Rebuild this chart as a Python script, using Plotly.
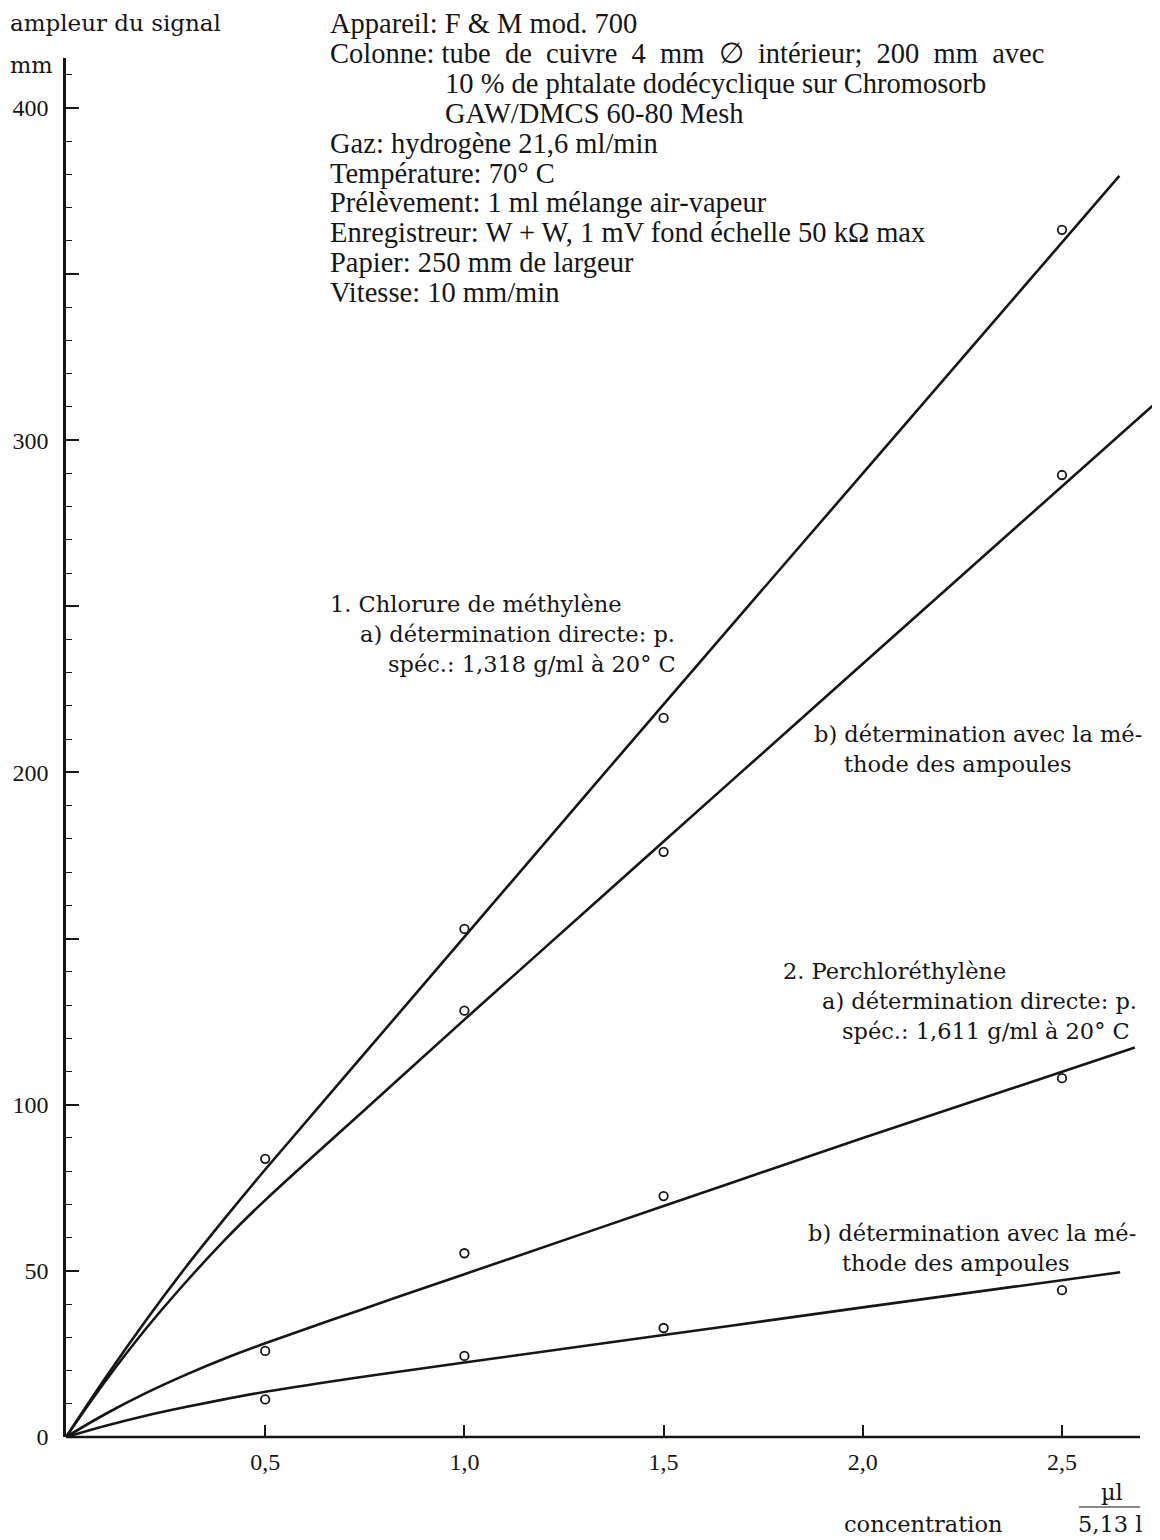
import plotly.graph_objects as go

# ---------------- data ----------------
# measured points: concentration (µl / 5,13 l) vs signal amplitude (mm)
s1a_x = [0.5, 1.0, 1.5, 2.5]
s1a_y = [83.7, 152.9, 216.4, 363.3]
s1b_x = [1.0, 1.5, 2.5]
s1b_y = [128.3, 176.1, 289.5]
s2a_x = [0.5, 1.0, 1.5, 2.5]
s2a_y = [25.9, 55.3, 72.5, 108.0]
s2b_x = [0.5, 1.0, 1.5, 2.5]
s2b_y = [11.3, 24.4, 32.8, 44.2]

# drawn calibration curves (vertices)
c1a_x = [0, 0.1, 0.2, 0.3, 0.4, 0.5, 0.75, 1.0, 1.5, 2.0, 2.644]
c1a_y = [0, 18.0, 35.0, 51.0, 66.0, 80.5, 115.5, 150.5, 220.5, 290.0, 379.5]
c1b_x = [0, 0.1, 0.2, 0.3, 0.4, 0.5, 0.75, 1.0, 1.5, 2.0, 2.739]
c1b_y = [0, 17.0, 32.5, 46.5, 59.5, 71.3, 98.5, 125.6, 179.2, 232.7, 311.6]
c2a_x = [0, 0.1, 0.2, 0.3, 0.4, 0.5, 0.75, 1.0, 1.5, 2.0, 2.683]
c2a_y = [0, 7.0, 13.2, 18.7, 23.7, 28.2, 38.7, 49.0, 69.5, 90.0, 117.2]
c2b_x = [0, 0.1, 0.2, 0.3, 0.4, 0.5, 0.75, 1.0, 1.5, 2.0, 2.646]
c2b_y = [0, 3.4, 6.4, 9.0, 11.4, 13.6, 18.2, 22.4, 30.7, 39.0, 49.6]

x_tick_vals = [0.5, 1.0, 1.5, 2.0, 2.5]
x_tick_text = ["0,5", "1,0", "1,5", "2,0", "2,5"]
y_tick_vals = [0, 50, 100, 150, 200, 250, 300, 350, 400]
y_tick_text = ["0", "50", "100", "", "200", "", "300", "", "400"]

G = " \u00a0"   # wide justified gap
header_lines = [
    ("Appareil: F & M mod. 700", 0),
    ("Colonne: tube" + G + "de" + G + "cuivre" + G + "4" + G + "mm" + G + "\u2205" + G
     + "intérieur;" + G + "200" + G + "mm" + G + "avec", 0),
    ("10 % de phtalate dodécyclique sur Chromosorb", 1),
    ("GAW/DMCS 60-80 Mesh", 1),
    ("Gaz: hydrogène 21,6 ml/min", 0),
    ("Température: 70° C", 0),
    ("Prélèvement: 1 ml mélange air-vapeur", 0),
    ("Enregistreur: W + W, 1 mV fond échelle 50 kΩ max", 0),
    ("Papier: 250 mm de largeur", 0),
    ("Vitesse: 10 mm/min", 0),
]

# ---------------- layout geometry ----------------
OFF = 8                      # page body margin
W, H = 1160 - OFF, 1540 - OFF
ML, MR, MT, MB = 66 - OFF, 0, 58 - OFF, 103
PW, PH = W - ML - MR, H - MT - MB
X_MAX = 2.746
Y_MAX = 415.0

def P(px, py):
    return (px - OFF - ML) / PW, (H - MB - (py - OFF)) / PH

INK = "#161616"
SERIF_T = "Liberation Serif, Times New Roman, serif"
SERIF_C = "DejaVu Serif, serif"

fig = go.Figure()

for cx, cy in [(c1a_x, c1a_y), (c1b_x, c1b_y), (c2a_x, c2a_y), (c2b_x, c2b_y)]:
    fig.add_trace(go.Scatter(x=cx, y=cy, mode="lines",
                             line=dict(color=INK, width=2.6, shape="spline", smoothing=1.0),
                             hoverinfo="skip", showlegend=False))

for sx, sy in [(s1a_x, s1a_y), (s1b_x, s1b_y), (s2a_x, s2a_y), (s2b_x, s2b_y)]:
    fig.add_trace(go.Scatter(x=sx, y=sy, mode="markers",
                             marker=dict(symbol="circle-open", size=8.5, color=INK,
                                         line=dict(width=1.8, color=INK)),
                             showlegend=False))

annotations = []

def txt(s, px, py, size=22.5, fam=SERIF_C, anchor="left"):
    x, y = P(px, py)
    annotations.append(dict(text=s, x=x, y=y, xref="paper", yref="paper",
                            xanchor=anchor, yanchor="middle", showarrow=False,
                            font=dict(family=fam, size=size, color=INK)))

# axis titles
txt("ampleur du signal", 8, 23, 23)
txt("mm", 8, 65, 22.5)

# header block
y0 = 24
for i, (line, indent) in enumerate(header_lines):
    txt(line, 328 + (115 if indent else 0), y0 + i * 29.8, 28.5, SERIF_T)

# curve labels
txt("1. Chlorure de méthylène", 328, 604)
txt("a) détermination directe: p.", 358, 634)
txt("spéc.: 1,318 g/ml à 20° C", 386, 664)
txt("b) détermination avec la mé-", 812, 734)
txt("thode des ampoules", 842, 764)
txt("2. Perchloréthylène", 781, 971)
txt("a) détermination directe: p.", 820, 1001)
txt("spéc.: 1,611 g/ml à 20° C", 840, 1031)
txt("b) détermination avec la mé-", 806, 1233)
txt("thode des ampoules", 840, 1263)

# x-axis title with fraction
txt("concentration", 842, 1524)
txt("µl", 1112, 1492, 22.5, SERIF_C, "center")
txt("5,13 l", 1110, 1524, 22.5, SERIF_C, "center")

shapes = []
# x-axis line (ends short of the plot edge as in the original)
shapes.append(dict(type="line", xref="x", yref="paper", x0=0, x1=2.696, y0=0, y1=0,
                   line=dict(color=INK, width=2.6)))
fx0, fy = P(1079, 1507)
fx1, _ = P(1140, 1507)
shapes.append(dict(type="line", xref="paper", yref="paper", x0=fx0, x1=fx1, y0=fy, y1=fy,
                   line=dict(color=INK, width=1.2)))

fig.update_layout(
    width=W, height=H,
    margin=dict(l=ML, r=MR, t=MT, b=MB),
    paper_bgcolor="white", plot_bgcolor="white",
    annotations=annotations, shapes=shapes,
    xaxis=dict(range=[0, X_MAX], showline=False, showgrid=False, zeroline=False,
               tickvals=x_tick_vals, ticktext=x_tick_text,
               ticks="inside", ticklen=12, tickwidth=2, tickcolor=INK,
               ticklabelstandoff=8,
               tickfont=dict(family=SERIF_T, size=24, color=INK)),
    yaxis=dict(range=[0, Y_MAX], showline=True, linecolor=INK, linewidth=2.6,
               showgrid=False, zeroline=False,
               tickvals=y_tick_vals, ticktext=y_tick_text,
               ticks="inside", ticklen=13, tickwidth=2, tickcolor=INK,
               ticklabelstandoff=10,
               minor=dict(dtick=10, ticks="inside", ticklen=6, tickwidth=1.4, tickcolor=INK),
               tickfont=dict(family=SERIF_T, size=24, color=INK)),
)

fig.write_html("out.html")
